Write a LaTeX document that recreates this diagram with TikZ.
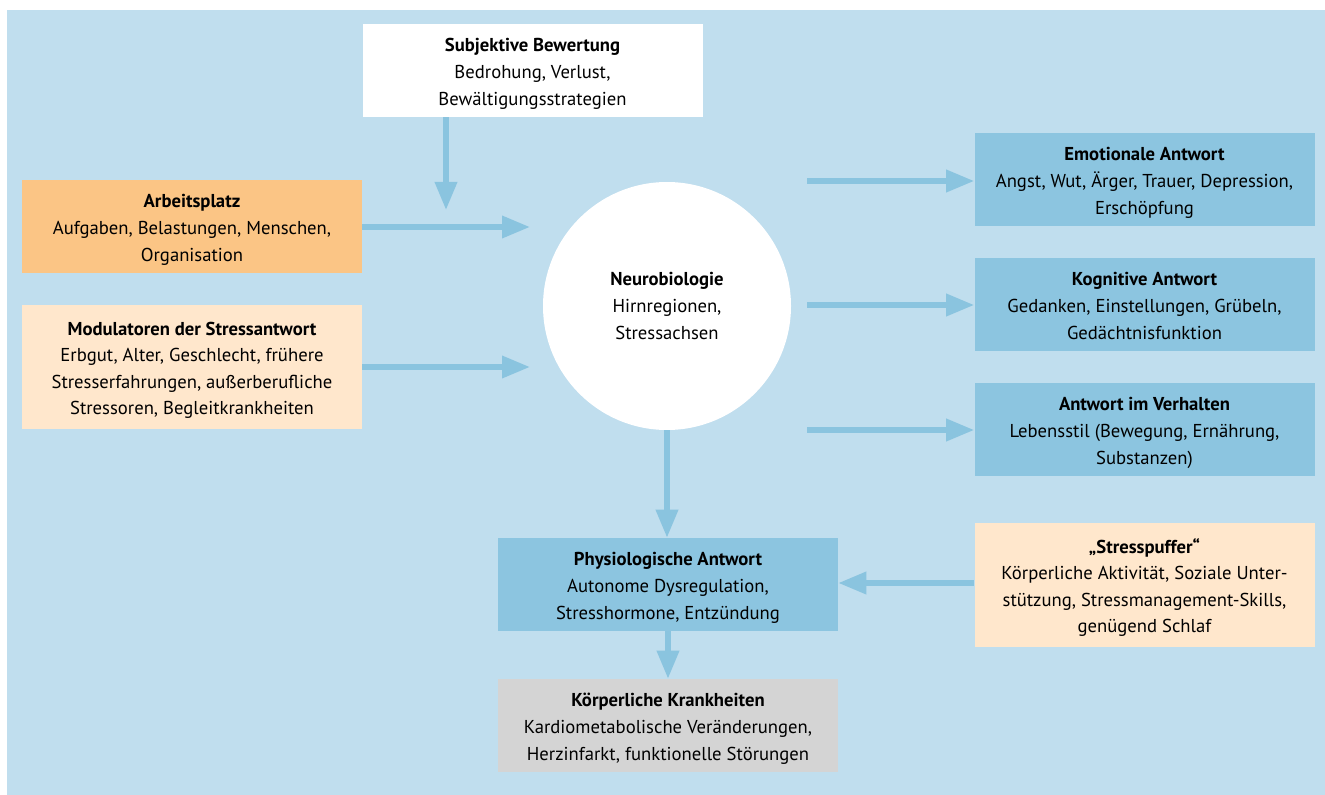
\documentclass[tikz,border=0pt]{standalone}
\usepackage{fontspec}
\setmainfont{PT Sans}
\usetikzlibrary{arrows.meta}
\definecolor{bgblue}{HTML}{C0DEEE}
\definecolor{arrblue}{HTML}{8AC4DF}
\definecolor{boxblue}{HTML}{8CC5E0}
\definecolor{boxorange}{HTML}{FBC585}
\definecolor{boxpeach}{HTML}{FFE7CC}
\definecolor{boxgray}{HTML}{D4D4D4}
\newcommand{\myTS}{\rule{0pt}{16pt}}
\newcommand{\myBS}{\rule[-4pt]{0pt}{4pt}}
\tikzset{
  x=0.75pt, y=-0.75pt,
  box/.style={rectangle, inner sep=0pt, minimum width=255pt, align=center,
    font=\fontsize{14}{19.9}\selectfont},
  box3/.style={box, minimum height=69.75pt},
  box4/.style={box, minimum height=93pt},
  arr/.style={draw=arrblue, line width=4.2pt, -{Triangle[width=16pt,length=21pt]}},
}
\begin{document}
\begin{tikzpicture}
\useasboundingbox (0,0) rectangle (1325,795);
\fill[bgblue] (7,10) rectangle (1325,795);

\node[box3, fill=white] (subj) at (532.5,70.5)
  {\myTS\textbf{Subjektive Bewertung}\\Bedrohung, Verlust,\\Bewältigungsstrategien\myBS};
\node[box3, fill=boxorange] (arb) at (192,226.5)
  {\myTS\textbf{Arbeitsplatz}\\Aufgaben, Belastungen, Menschen,\\Organisation\myBS};
\node[box4, fill=boxpeach] (mod) at (192,367)
  {\myTS\textbf{Modulatoren der Stressantwort}\\Erbgut, Alter, Geschlecht, frühere\\Stresserfahrungen, außerberufliche\\Stressoren, Begleitkrankheiten\myBS};
\node[circle, fill=white, minimum size=186pt, inner sep=0pt, align=center,
  font=\fontsize{14}{19.9}\selectfont] (neuro) at (667,306)
  {\textbf{Neurobiologie}\\Hirnregionen,\\Stressachsen};
\node[box3, fill=boxblue] (emo) at (1144.5,179.5)
  {\myTS\textbf{Emotionale Antwort}\\Angst, Wut, Ärger, Trauer, Depression,\\Erschöpfung\myBS};
\node[box3, fill=boxblue] (kog) at (1144.5,304.5)
  {\myTS\textbf{Kognitive Antwort}\\Gedanken, Einstellungen, Grübeln,\\Gedächtnisfunktion\myBS};
\node[box3, fill=boxblue] (verh) at (1144.5,429.5)
  {\myTS\textbf{Antwort im Verhalten}\\Lebensstil (Bewegung, Ernährung,\\Substanzen)\myBS};
\node[box3, fill=boxblue] (phys) at (668,584.5)
  {\myTS\textbf{Physiologische Antwort}\\Autonome Dysregulation,\\Stresshormone, Entzündung\myBS};
\node[box4, fill=boxpeach] (puff) at (1144.5,585)
  {\myTS\textbf{„Stresspuffer“}\\Körperliche Aktivität, Soziale Unter-\\stützung, Stressmanagement-Skills,\\genügend Schlaf\myBS};
\node[box3, fill=boxgray] (krank) at (668,725.5)
  {\myTS\textbf{Körperliche Krankheiten}\\Kardiometabolische Veränderungen,\\Herzinfarkt, funktionelle Störungen\myBS};

\coordinate (subjtip) at (446,210);
\coordinate (arbtip) at (530,227);
\coordinate (modtip) at (530,367);
\coordinate (emostart) at (807,181);
\coordinate (kogstart) at (807,305);
\coordinate (verhstart) at (807,430);

\draw[arr] (subj.south -| subjtip) -- (subjtip);
\draw[arr] (arb.east |- arbtip) -- (arbtip);
\draw[arr] (mod.east |- modtip) -- (modtip);
\draw[arr] (emostart) -- (emostart -| emo.west);
\draw[arr] (kogstart) -- (kogstart -| kog.west);
\draw[arr] (verhstart) -- (verhstart -| verh.west);
\draw[arr] (neuro.south) -- (neuro.south |- phys.north);
\draw[arr] (puff.west |- 0,583) -- (phys.east |- 0,583);
\draw[arr] (phys.south) -- (krank.north);
\end{tikzpicture}
\end{document}
